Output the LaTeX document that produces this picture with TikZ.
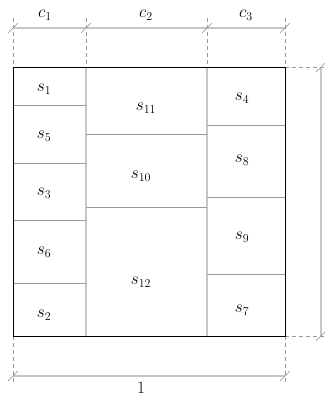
\documentclass[tikz,border=0pt]{standalone}
\begin{document}
\begin{tikzpicture}[x=1pt,y=-1pt,
  outline/.style={black,line width=0.9pt},
  coldiv/.style={black!22,line width=1.3pt},
  rowdiv/.style={black!40,line width=0.7pt},
  dimline/.style={black!22,line width=1.3pt},
  extline/.style={black!40,dashed,line width=0.7pt,dash pattern=on 4pt off 3pt},
  tick/.style={black!45,line width=0.6pt},
  lab/.style={font=\fontsize{17}{20}\selectfont,inner sep=0pt}]
\useasboundingbox (0,0) rectangle (324,396);
% extension lines
\foreach \x in {13,86,207,285} \draw[extline] (\x,18) -- (\x,67);
\draw[extline] (285,67) -- (325,67);
\draw[extline] (285,336) -- (325,336);
\draw[extline] (13,336) -- (13,382);
\draw[extline] (285,336) -- (285,382);
% dimension lines
\draw[dimline] (13,28) -- (285,28);
\draw[dimline] (321,67) -- (321,336);
\draw[dimline] (13,376) -- (285,376);
\foreach \x in {13,86,207,285} \draw[tick] (\x-5,33) -- (\x+5,23);
\foreach \y in {67,336} \draw[tick] (316,\y+5) -- (326,\y-5);
\foreach \x in {13,285} \draw[tick] (\x-5,381) -- (\x+5,371);
% grid
\draw[coldiv] (86,67) -- (86,336);
\draw[coldiv] (207,67) -- (207,336);
\foreach \y in {105,163,220,283} \draw[rowdiv] (13,\y) -- (86,\y);
\foreach \y in {134,207} \draw[rowdiv] (86,\y) -- (207,\y);
\foreach \y in {125,197,274} \draw[rowdiv] (207,\y) -- (285,\y);
\draw[outline] (13,67) rectangle (285,336);
% labels
\node[lab] (c1) at (45,15) {$c_1$};
\node[lab] (c2) at (146,15) {$c_2$};
\node[lab] (c3) at (246,15) {$c_3$};
\node[lab] (one) at (141,388) {$1$};
\node[lab] (s1) at (44,89) {$s_1$};
\node[lab] (s5) at (44,136) {$s_5$};
\node[lab] (s3) at (44,193) {$s_3$};
\node[lab] (s6) at (44,252) {$s_6$};
\node[lab] (s2) at (44,315) {$s_2$};
\node[lab] (s11) at (146,108) {$s_{11}$};
\node[lab] (s10) at (141,176) {$s_{10}$};
\node[lab] (s12) at (141,282) {$s_{12}$};
\node[lab] (s4) at (242,98) {$s_4$};
\node[lab] (s8) at (242,160) {$s_8$};
\node[lab] (s9) at (242,237) {$s_9$};
\node[lab] (s7) at (242,310) {$s_7$};
\end{tikzpicture}
\end{document}
